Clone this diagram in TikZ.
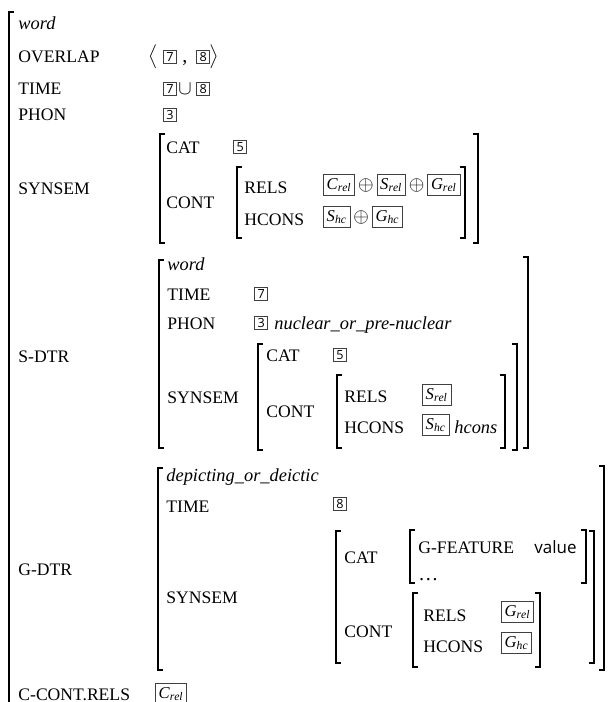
\documentclass[tikz,border=0pt]{standalone}
\usepackage{fontspec}
\setmainfont{Liberation Serif}
\newfontfamily\tagfont{Open Sans}
\usetikzlibrary{positioning}

\begin{document}
\begin{tikzpicture}[
    x=0.5pt, y=-0.5pt,
    attr/.style={anchor=base west, inner sep=0pt, font=\fontsize{8.8}{10}\selectfont},
    type/.style={anchor=base west, inner sep=0pt, font=\fontsize{9.2}{11}\selectfont\itshape},
    tag/.style={draw=black!75, line width=0.5pt, inner sep=0pt, minimum size=6.6pt,
        font=\tagfont\fontsize{6.3}{7}\selectfont, anchor=west},
    var/.style={draw=black!75, line width=0.5pt, inner sep=1.6pt, minimum height=10pt,
        font=\fontsize{8.3}{10}\selectfont, anchor=west},
    op/.style={inner sep=0pt, anchor=west},
    bracket/.style={line width=0.85pt}
]
\useasboundingbox (0,0) rectangle (610,702);

% Outer matrix
\draw[bracket] (14,12) -| (9,702);
\node[type] (top) at (18,29) {word};

% Overlap
\node[attr] (ovl) at (18,62) {OVERLAP};
\node[op] (ovlL) at (148,57) {$\big\langle$};
\node[tag] (ovlA) at (163,57) {7};
\node[op, anchor=base west] (ovlC) at (182,62) {,};
\node[tag] (ovlB) at (196,57) {8};
\node[op] (ovlR) at (209,57) {$\big\rangle$};

% Time and phon
\node[attr] (time) at (18,94) {TIME};
\node[tag] (timeA) at (163,89) {7};
\node[op] (timeU) at (178,89) {$\cup$};
\node[tag] (timeB) at (196,89) {8};
\node[attr] (phon) at (18,120) {PHON};
\node[tag] (phonA) at (163,115) {3};

% Synsem
\node[attr] (syn) at (18,194) {SYNSEM};
\draw[bracket] (165,134) -| (160,243) -- ++(5,0);
\draw[bracket] (473,134) -| (478,243) -- ++(-5,0);
\node[attr] (synCat) at (166,153) {CAT};
\node[tag] (synCatA) at (233,147) {5};
\node[attr] (synCont) at (166,208) {CONT};
\draw[bracket] (242,167) -| (237,238) -- ++(5,0);
\draw[bracket] (460,167) -| (465,238) -- ++(-5,0);
\node[attr] (synRels) at (244,193) {RELS};
\node[var] (synRelsA) at (323,185) {$\mathit{C}_{\mathit{rel}}$};
\node[op, right=1.2pt of synRelsA] (synRelsP) {$\oplus$};
\node[var, right=1.2pt of synRelsP] (synRelsB) {$\mathit{S}_{\mathit{rel}}$};
\node[op, right=1.2pt of synRelsB] (synRelsQ) {$\oplus$};
\node[var, right=1.2pt of synRelsQ] (synRelsC) {$\mathit{G}_{\mathit{rel}}$};
\node[attr] (synHc) at (244,225) {HCONS};
\node[var] (synHcA) at (323,217) {$\mathit{S}_{\mathit{hc}}$};
\node[op, right=1.2pt of synHcA] (synHcP) {$\oplus$};
\node[var, right=1.2pt of synHcP] (synHcB) {$\mathit{G}_{\mathit{hc}}$};

% S-DTR
\node[attr] (sdtr) at (18,362) {S-DTR};
\draw[bracket] (164,260) -| (159,448) -- ++(5,0);
\draw[bracket] (523,257) -| (528,448) -- ++(-5,0);
\node[type] (sType) at (167,270) {word};
\node[attr] (sTime) at (167,300) {TIME};
\node[tag] (sTimeA) at (254,294) {7};
\node[attr] (sPhon) at (167,329) {PHON};
\node[tag] (sPhonA) at (254,323) {3};
\node[type] (sPhonB) at (274,329) {nuclear\_or\_pre-nuclear};
\node[attr] (sSyn) at (167,403) {SYNSEM};
\draw[bracket] (263,344) -| (258,450) -- ++(5,0);
\draw[bracket] (512,344) -| (517,450) -- ++(-5,0);
\node[attr] (sCat) at (266,361) {CAT};
\node[tag] (sCatA) at (333,355) {5};
\node[attr] (sCont) at (266,417) {CONT};
\draw[bracket] (342,375) -| (337,448) -- ++(5,0);
\draw[bracket] (500,375) -| (505,448) -- ++(-5,0);
\node[attr] (sRels) at (344,402) {RELS};
\node[var] (sRelsA) at (422,395) {$\mathit{S}_{\mathit{rel}}$};
\node[attr] (sHc) at (344,433) {HCONS};
\node[var] (sHcA) at (422,425) {$\mathit{S}_{\mathit{hc}}$};
\node[type] (sHcB) at (454,433) {hcons};

% G-DTR
\node[attr] (gdtr) at (18,575) {G-DTR};
\draw[bracket] (163,468) -| (158,670) -- ++(5,0);
\draw[bracket] (599,466) -| (604,670) -- ++(-5,0);
\node[type] (gType) at (166,481) {depicting\_or\_deictic};
\node[attr] (gTime) at (166,512) {TIME};
\node[tag] (gTimeA) at (333,504) {8};
\node[attr] (gSyn) at (166,603) {SYNSEM};
\draw[bracket] (341,531) -| (336,663) -- ++(5,0);
\draw[bracket] (589,531) -| (594,663) -- ++(-5,0);
\node[attr] (gCat) at (344,563) {CAT};
\draw[bracket] (415,530) -| (410,583) -- ++(5,0);
\draw[bracket] (581,530) -| (586,583) -- ++(-5,0);
\node[attr] (gFeat) at (418,553) {G-FEATURE};
\node[attr, anchor=base east, font=\tagfont\fontsize{8.5}{10}\selectfont] (gFeatV) at (577,553) {value};
\node[attr, font=\fontsize{10}{12}\selectfont] (gDots) at (418,580) {\dots};
\node[attr] (gCont) at (344,637) {CONT};
\draw[bracket] (418,593) -| (413,667) -- ++(5,0);
\draw[bracket] (535,593) -| (540,667) -- ++(-5,0);
\node[attr] (gRels) at (423,621) {RELS};
\node[var] (gRelsA) at (501,612) {$\mathit{G}_{\mathit{rel}}$};
\node[attr] (gHc) at (423,652) {HCONS};
\node[var] (gHcA) at (501,643) {$\mathit{G}_{\mathit{hc}}$};

% C-CONT
\node[attr] (ccont) at (18,700) {C-CONT.RELS};
\node[var] (ccontA) at (155,694) {$\mathit{C}_{\mathit{rel}}$};

\end{tikzpicture}
\end{document}
